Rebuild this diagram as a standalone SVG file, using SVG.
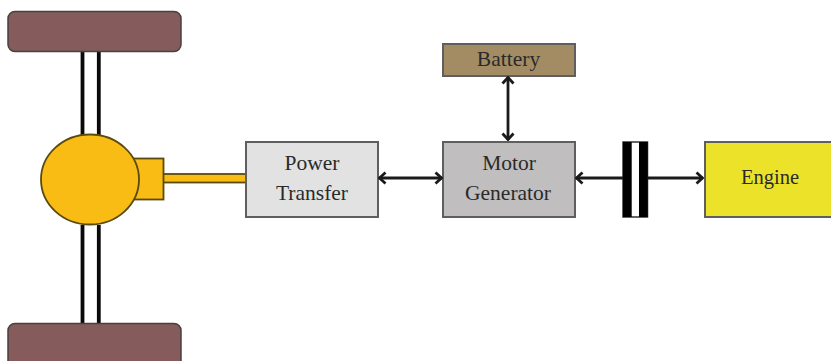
<svg xmlns="http://www.w3.org/2000/svg" width="831" height="361" viewBox="0 0 831 361">
<defs>
<marker id="a" viewBox="0 0 12 14" refX="11" refY="7" markerWidth="12" markerHeight="14" markerUnits="userSpaceOnUse" orient="auto-start-reverse"><path d="M4.500 1.500 L10.500 7 L4.500 12.500" fill="none" stroke="#1a1a1a" stroke-width="2.800"/></marker>
</defs>
<style>
.box{stroke:#5f5f5f;stroke-width:2}
.wheel{fill:#855b5b;stroke:#4a4040;stroke-width:1.5}
.lbl{font-family:"Liberation Serif",serif;font-size:21.500px;fill:#2a2a2a;text-anchor:middle}
.con{stroke:#1a1a1a;stroke-width:2.800;fill:none}
.axle{stroke:#0a0a0a;stroke-width:3.800}
.gold{fill:#f9bc15;stroke:#5a4a10;stroke-width:1.800}
</style>
<rect width="831" height="361" fill="#fff"/>
<g id="axles">
<line class="axle" x1="82.500" y1="52" x2="82.500" y2="135"/><line class="axle" x1="98.800" y1="52" x2="98.800" y2="135"/>
<line class="axle" x1="82.500" y1="225" x2="82.500" y2="323"/><line class="axle" x1="98.800" y1="225" x2="98.800" y2="323"/>
</g>
<g id="wheel-top"><rect class="wheel" x="8" y="11.500" width="173" height="40" rx="7"/></g>
<g id="wheel-bottom"><rect class="wheel" x="8" y="323.500" width="173" height="45" rx="7"/></g>
<g id="shaft"><rect class="gold" x="163" y="174" width="83" height="8.500"/></g>
<g id="diff-housing"><rect class="gold" x="130" y="158.500" width="33.500" height="41"/></g>
<g id="differential"><ellipse class="gold" cx="90" cy="179.500" rx="49" ry="45"/></g>
<g id="power-transfer"><rect class="box" x="246" y="142" width="132" height="75" fill="#e2e2e2"/><text class="lbl" x="312" y="170">Power</text><text class="lbl" x="312" y="200">Transfer</text></g>
<g id="motor-generator"><rect class="box" x="443" y="142" width="132" height="75" fill="#c0bebf"/><text class="lbl" x="509" y="170">Motor</text><text class="lbl" x="508" y="200">Generator</text></g>
<g id="battery"><rect class="box" x="443" y="44" width="132" height="32" fill="#a38c64"/><text class="lbl" x="508.500" y="66">Battery</text></g>
<g id="engine"><rect class="box" x="705" y="142" width="130" height="75" fill="#ede22a"/><text class="lbl" x="770" y="184" style="font-size:20.500px">Engine</text></g>
<g id="clutch"><rect x="623" y="142" width="24.500" height="75" fill="#fff" stroke="#333" stroke-width="1.500"/><rect x="623" y="142" width="8.700" height="75" fill="#000"/><rect x="639" y="142" width="8.700" height="75" fill="#000"/></g>
<g id="connectors">
<line class="con" x1="379" y1="178" x2="442" y2="178" marker-start="url(#a)" marker-end="url(#a)"/>
<line class="con" x1="508" y1="77" x2="508" y2="140" marker-start="url(#a)" marker-end="url(#a)"/>
<line class="con" x1="576" y1="178" x2="623" y2="178" marker-start="url(#a)"/>
<line class="con" x1="648" y1="178" x2="703" y2="178" marker-end="url(#a)"/>
</g>
</svg>
